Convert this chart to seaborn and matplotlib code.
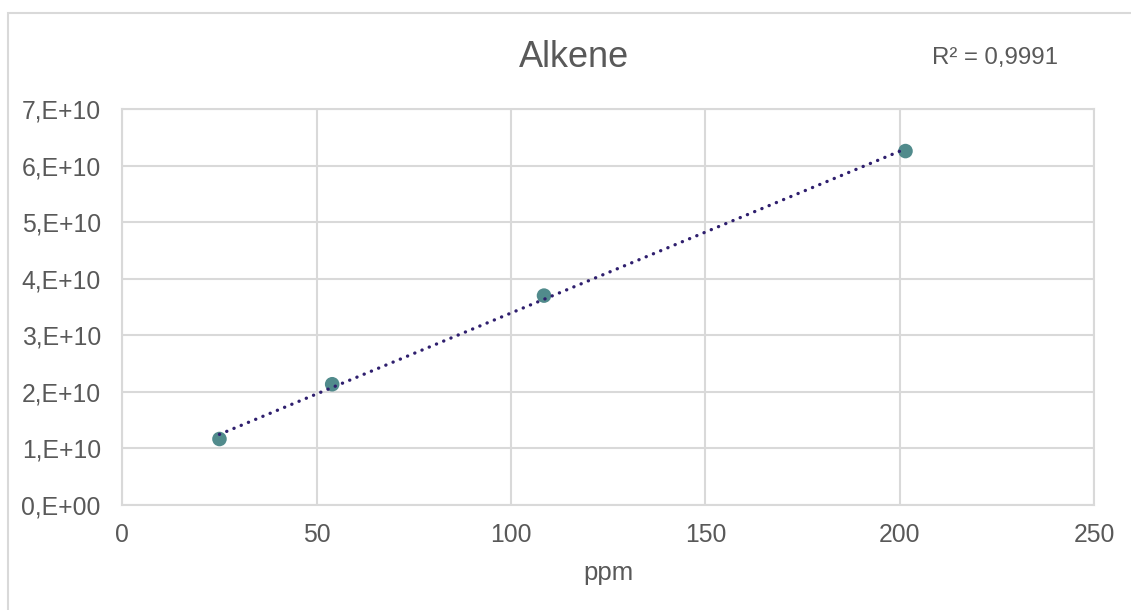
import matplotlib
matplotlib.use("Agg")
import matplotlib.pyplot as plt
import seaborn as sns
import pandas as pd
import numpy as np
from matplotlib.patches import Rectangle

# ---- data ----
ppm = [25, 54, 108.5, 201.5]
signal = [1.16e10, 2.13e10, 3.70e10, 6.26e10]
x_ticks = [0, 50, 100, 150, 200, 250]
y_ticks = [0, 1e10, 2e10, 3e10, 4e10, 5e10, 6e10, 7e10]
y_tick_labels = ["0,E+00", "1,E+10", "2,E+10", "3,E+10", "4,E+10", "5,E+10", "6,E+10", "7,E+10"]
title = "Alkene"
x_label = "ppm"
r2_text = "R² = 0,9991"

sns.set_theme(style="white")
plt.rcParams['font.family'] = ['Liberation Sans', 'DejaVu Sans']

W, H = 1131, 610
fig = plt.figure(figsize=(W / 100, H / 100), dpi=100)
ax = fig.add_axes([122.3 / W, 1 - 504.5 / H, (1094 - 122.3) / W, (504.5 - 109.3) / H])

df = pd.DataFrame({"ppm": ppm, "signal": signal})

grid_c = "#d9d9d9"
text_c = "#595959"

sns.regplot(data=df, x="ppm", y="signal", ax=ax, scatter=False, ci=None, truncate=True,
            line_kws=dict(color="#2f1f6e", lw=2.4, linestyle=(0, (0.05, 2.3)),
                          dash_capstyle="round", zorder=3))
sns.scatterplot(data=df, x="ppm", y="signal", ax=ax, s=110, color="#518b8c",
                edgecolor="none", zorder=2)

ax.set_xlim(0, 250)
ax.set_ylim(0, 7e10)
ax.set_xticks(x_ticks)
ax.set_xticklabels([str(t) for t in x_ticks])
ax.set_yticks(y_ticks)
ax.set_yticklabels(y_tick_labels)
ax.grid(True, color=grid_c, lw=1.5)
ax.set_axisbelow(True)
for s in ax.spines.values():
    s.set_color(grid_c)
    s.set_linewidth(1.5)
ax.tick_params(axis="both", length=0, labelsize=17.8, labelcolor=text_c)
ax.tick_params(axis="x", pad=13.5)
ax.tick_params(axis="y", pad=15.5)
ax.set_xlabel(x_label, fontsize=18.5, color=text_c, labelpad=10)
ax.set_ylabel("")

fig.text(574 / W, 1 - 66.7 / H, title, fontsize=26, color=text_c, ha="center", va="baseline")
fig.text(931.7 / W, 1 - 64.3 / H, r2_text, fontsize=17.3, color=text_c, ha="left", va="baseline")

fig.patches.append(Rectangle((8 / W, -0.2), 1.2, 1.2 - 13 / H, transform=fig.transFigure,
                             fill=False, edgecolor=grid_c, lw=1.5, zorder=0))

fig.savefig("out.png", dpi=100, facecolor="white")
